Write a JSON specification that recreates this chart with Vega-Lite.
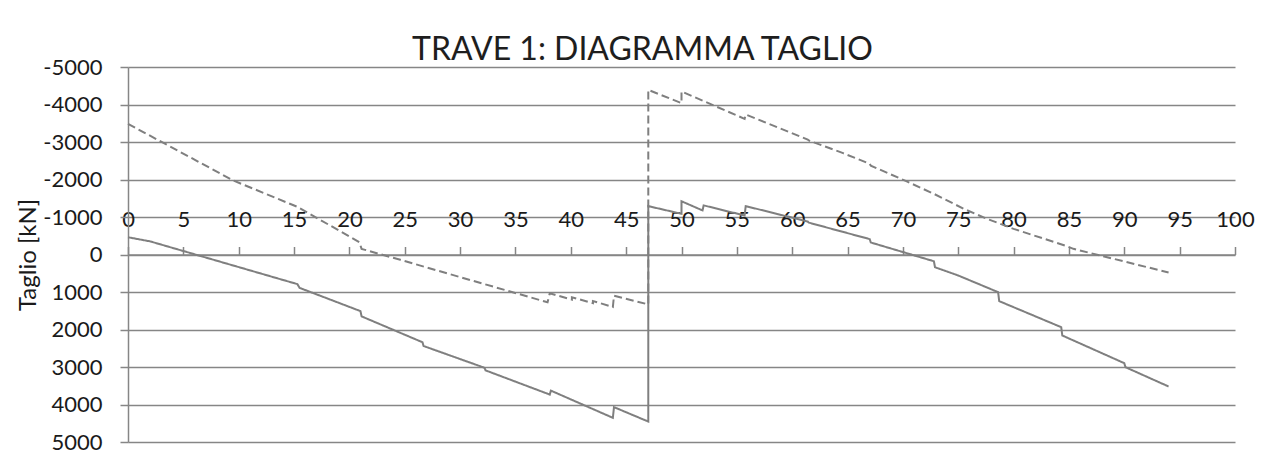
{
  "$schema": "https://vega.github.io/schema/vega-lite/v6.json",
  "autosize": {"type": "none"},
  "padding": {"left": 128, "top": 67, "right": 52, "bottom": 15},
  "width": 1107,
  "height": 375,
  "background": "white",
  "config": {
    "view": {"stroke": null},
    "font": "Lato"
  },
  "title": {
    "text": "TRAVE 1: DIAGRAMMA TAGLIO",
    "font": "Lato",
    "fontSize": 32,
    "fontWeight": "normal",
    "color": "#1e1e1e",
    "anchor": "middle",
    "dx": -39,
    "dy": 44,
    "baseline": "alphabetic",
    "offset": 8
  },
  "data": {
    "values": [
      {"serie": "max", "i": 1, "x": 0, "v": -460},
      {"serie": "max", "i": 2, "x": 2, "v": -350},
      {"serie": "max", "i": 3, "x": 15.3, "v": 790},
      {"serie": "max", "i": 4, "x": 15.5, "v": 890},
      {"serie": "max", "i": 5, "x": 21.0, "v": 1510},
      {"serie": "max", "i": 6, "x": 21.1, "v": 1650},
      {"serie": "max", "i": 7, "x": 26.6, "v": 2340},
      {"serie": "max", "i": 8, "x": 26.7, "v": 2440},
      {"serie": "max", "i": 9, "x": 32.2, "v": 3020},
      {"serie": "max", "i": 10, "x": 32.3, "v": 3090},
      {"serie": "max", "i": 11, "x": 38.1, "v": 3735},
      {"serie": "max", "i": 12, "x": 38.2, "v": 3630},
      {"serie": "max", "i": 13, "x": 43.8, "v": 4355},
      {"serie": "max", "i": 14, "x": 43.9, "v": 4070},
      {"serie": "max", "i": 15, "x": 47.0, "v": 4455},
      {"serie": "max", "i": 16, "x": 47.0, "v": -1290},
      {"serie": "max", "i": 17, "x": 50.0, "v": -1085},
      {"serie": "max", "i": 18, "x": 50.0, "v": -1420},
      {"serie": "max", "i": 19, "x": 51.9, "v": -1175},
      {"serie": "max", "i": 20, "x": 52.0, "v": -1310},
      {"serie": "max", "i": 21, "x": 55.7, "v": -1040},
      {"serie": "max", "i": 22, "x": 55.8, "v": -1290},
      {"serie": "max", "i": 23, "x": 61.4, "v": -880},
      {"serie": "max", "i": 24, "x": 61.5, "v": -850},
      {"serie": "max", "i": 25, "x": 67.0, "v": -410},
      {"serie": "max", "i": 26, "x": 67.1, "v": -320},
      {"serie": "max", "i": 27, "x": 72.8, "v": 180},
      {"serie": "max", "i": 28, "x": 72.9, "v": 340},
      {"serie": "max", "i": 29, "x": 75.0, "v": 560},
      {"serie": "max", "i": 30, "x": 78.6, "v": 1004},
      {"serie": "max", "i": 31, "x": 78.7, "v": 1244},
      {"serie": "max", "i": 32, "x": 84.3, "v": 1938},
      {"serie": "max", "i": 33, "x": 84.4, "v": 2160},
      {"serie": "max", "i": 34, "x": 90.0, "v": 2898},
      {"serie": "max", "i": 35, "x": 90.1, "v": 3004},
      {"serie": "max", "i": 36, "x": 94.0, "v": 3520},

      {"serie": "min", "i": 1, "x": 0, "v": -3484},
      {"serie": "min", "i": 2, "x": 9.5, "v": -1975},
      {"serie": "min", "i": 3, "x": 15.3, "v": -1270},
      {"serie": "min", "i": 4, "x": 20.9, "v": -330},
      {"serie": "min", "i": 5, "x": 21.1, "v": -150},
      {"serie": "min", "i": 6, "x": 24.6, "v": 142},
      {"serie": "min", "i": 7, "x": 37.9, "v": 1275},
      {"serie": "min", "i": 8, "x": 38.1, "v": 1035},
      {"serie": "min", "i": 9, "x": 40.1, "v": 1205},
      {"serie": "min", "i": 10, "x": 40.1, "v": 1140},
      {"serie": "min", "i": 11, "x": 42.0, "v": 1300},
      {"serie": "min", "i": 12, "x": 42.0, "v": 1240},
      {"serie": "min", "i": 13, "x": 43.8, "v": 1400},
      {"serie": "min", "i": 14, "x": 43.9, "v": 1100},
      {"serie": "min", "i": 15, "x": 47.0, "v": 1330},
      {"serie": "min", "i": 16, "x": 47.0, "v": -4390},
      {"serie": "min", "i": 17, "x": 50.0, "v": -4036},
      {"serie": "min", "i": 18, "x": 50.0, "v": -4347},
      {"serie": "min", "i": 19, "x": 55.7, "v": -3618},
      {"serie": "min", "i": 20, "x": 55.8, "v": -3733},
      {"serie": "min", "i": 21, "x": 61.4, "v": -3067},
      {"serie": "min", "i": 22, "x": 61.5, "v": -3040},
      {"serie": "min", "i": 23, "x": 64.6, "v": -2702},
      {"serie": "min", "i": 24, "x": 67.0, "v": -2418},
      {"serie": "min", "i": 25, "x": 67.1, "v": -2370},
      {"serie": "min", "i": 26, "x": 70.3, "v": -1956},
      {"serie": "min", "i": 27, "x": 72.8, "v": -1618},
      {"serie": "min", "i": 28, "x": 75.5, "v": -1218},
      {"serie": "min", "i": 29, "x": 77.6, "v": -951},
      {"serie": "min", "i": 30, "x": 80.0, "v": -684},
      {"serie": "min", "i": 31, "x": 84.9, "v": -213},
      {"serie": "min", "i": 32, "x": 85.4, "v": -151},
      {"serie": "min", "i": 33, "x": 94.0, "v": 480}
    ]
  },
  "mark": {"type": "line", "color": "#7f7f7f", "strokeWidth": 2, "interpolate": "linear"},
  "encoding": {
    "x": {
      "field": "x",
      "type": "quantitative",
      "scale": {"domain": [0, 100], "nice": false, "zero": false},
      "axis": {
        "orient": "top",
        "offset": -187.5,
        "title": null,
        "values": [0, 5, 10, 15, 20, 25, 30, 35, 40, 45, 50, 55, 60, 65, 70, 75, 80, 85, 90, 95, 100],
        "grid": false,
        "domainColor": "#868686",
        "domainWidth": 1.5,
        "tickColor": "#868686",
        "tickWidth": 1.5,
        "tickSize": 8,
        "labelFont": "Lato",
        "labelFontSize": 22,
        "labelColor": "#1a1a1a",
        "labelBaseline": "alphabetic",
        "labelPadding": 20,
        "labelOverlap": false,
        "labelFlush": false,
        "labelExpr": "'' + datum.value"
      }
    },
    "y": {
      "field": "v",
      "type": "quantitative",
      "scale": {"domain": [-5000, 5000], "reverse": true, "nice": false, "zero": false},
      "axis": {
        "title": "Taglio [kN]",
        "titleFont": "Lato",
        "titleFontSize": 24,
        "titleFontWeight": "normal",
        "titleColor": "#1a1a1a",
        "titlePadding": 2,
        "values": [-5000, -4000, -3000, -2000, -1000, 0, 1000, 2000, 3000, 4000, 5000],
        "grid": true,
        "gridColor": "#868686",
        "gridWidth": 1.5,
        "domainColor": "#868686",
        "domainWidth": 1.5,
        "tickColor": "#868686",
        "tickWidth": 1.5,
        "tickSize": 8,
        "labelFont": "Lato",
        "labelFontSize": 22,
        "labelColor": "#1a1a1a",
        "labelPadding": 18,
        "labelOverlap": false,
        "labelFlush": false,
        "labelExpr": "'' + datum.value"
      }
    },
    "strokeDash": {
      "field": "serie",
      "type": "nominal",
      "scale": {"domain": ["max", "min"], "range": [[1, 0], [8, 4]]},
      "legend": null
    },
    "order": {"field": "i", "type": "quantitative"}
  }
}
